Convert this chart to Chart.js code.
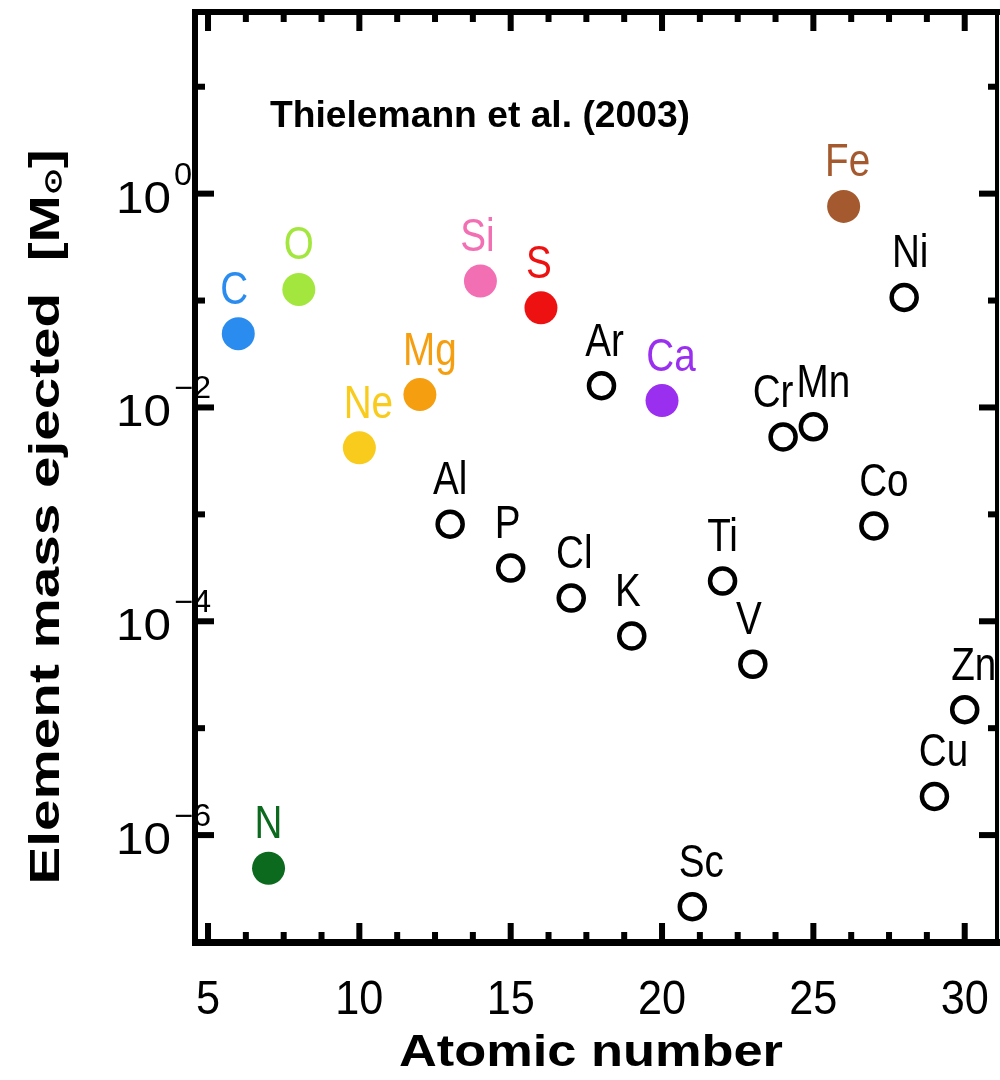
<!DOCTYPE html>
<html>
<head>
<meta charset="utf-8">
<script src="https://cdn.jsdelivr.net/npm/chart.js@4/dist/chart.umd.min.js"></script>
<style>
  html, body { margin: 0; padding: 0; background: #ffffff; }
  canvas { display: block; }
</style>
</head>
<body>
<canvas id="yields" width="1000" height="1080"></canvas>
<script>
// Element yields of a Type Ia supernova model
const elements     = ['C', 'N', 'O', 'Ne', 'Mg', 'Al', 'Si', 'P', 'S', 'Cl', 'Ar', 'K', 'Ca', 'Sc', 'Ti', 'V', 'Cr', 'Mn', 'Fe', 'Co', 'Ni', 'Cu', 'Zn'];
const atomicNumber = [6, 7, 8, 10, 12, 13, 14, 15, 16, 17, 18, 19, 20, 21, 22, 23, 24, 25, 26, 27, 28, 29, 30];
const massEjected  = [4.9e-2, 4.9e-7, 0.127, 4.2e-3, 1.32e-2, 8.1e-4, 0.152, 3.15e-4, 8.55e-2, 1.65e-4,
                      1.60e-2, 7.3e-5, 1.16e-2, 2.14e-7, 2.38e-4, 3.96e-5, 5.3e-3, 6.6e-3, 0.76, 7.8e-4,
                      0.107, 2.3e-6, 1.49e-5];

// Axis ticks
const xMajorTicks     = [5, 10, 15, 20, 25, 30];
const xMinorStep      = 1.25;
const yMajorExponents = [0, -2, -4, -6];
const yMinorExponents = [1, -1, -3, -5];

// Texts
const sourceNote = 'Thielemann et al. (2003)';
const xTitle     = 'Atomic number';
const yTitle     = 'Element mass ejected';

// Elements drawn as filled coloured dots; all others are open black rings
const fillColour = {
  C: '#2b8cef', N: '#0c6a1e', O: '#a3e63d', Ne: '#f8cb1c', Mg: '#f59f10',
  Si: '#f26fb3', S: '#ee1111', Ca: '#9a2ff0', Fe: '#a45a2e'
};
// Small sideways shifts (px) for some element names so they clear their neighbours
const labelShift = {
  C: -4, Ne: 9, Mg: 10, Si: -3, P: -3, S: -2, Cl: 3, Ar: 3, K: -4, Ca: 9,
  Sc: 9, V: -4, Cr: -10, Mn: 10, Fe: 4, Co: 10, Ni: 6, Cu: 9, Zn: 9
};

const points = atomicNumber.map((z, i) => ({ x: z, y: massEjected[i] }));
const isFilled = elements.map(e => e in fillColour);

const FONT = '"Liberation Sans", Arial, sans-serif';

// Draw text squeezed (or stretched) horizontally
function squeezedText(ctx, text, x, y, font, align, squeeze) {
  ctx.save();
  ctx.font = font;
  ctx.textAlign = align;
  ctx.textBaseline = 'alphabetic';
  ctx.translate(x, y);
  ctx.scale(squeeze, 1);
  ctx.fillText(text, 0, 0);
  ctx.restore();
}

// Fit text to a given width, centred on cx
function fittedText(ctx, text, cx, baseline, font, width) {
  ctx.save();
  ctx.font = font;
  const w = ctx.measureText(text).width;
  ctx.restore();
  squeezedText(ctx, text, cx, baseline, font, 'center', width / w);
}

const framePlugin = {
  id: 'frameAndLabels',
  afterDatasetsDraw(chart) {
    const { ctx, chartArea: a, scales } = chart;
    const xs = scales.x, ys = scales.y;
    ctx.save();
    ctx.fillStyle = '#000';

    // Box frame
    const lw = 6;
    ctx.fillRect(a.left - lw / 2, a.top - lw / 2, a.right - a.left + lw, lw);          // top
    ctx.fillRect(a.left - lw / 2, a.bottom - lw / 2, a.right - a.left + lw, lw + 1);   // bottom
    ctx.fillRect(a.left - lw / 2, a.top - lw / 2, lw, a.bottom - a.top + lw);          // left
    ctx.fillRect(a.right - lw / 2, a.top - lw / 2, lw - 2, a.bottom - a.top + lw);     // right

    const tw = 6, majorLen = 19, minorLen = 10;

    // X ticks (bottom and top, pointing inwards)
    const xTick = (v, len) => {
      const px = xs.getPixelForValue(v);
      ctx.fillRect(px - tw / 2, a.bottom - len, tw, len);
      ctx.fillRect(px - tw / 2, a.top, tw, len);
    };
    xMajorTicks.forEach(v => xTick(v, majorLen));
    for (let v = xMajorTicks[0] - xMinorStep * 4; v <= xs.max; v += xMinorStep) {
      if (v < xs.min || xMajorTicks.some(m => Math.abs(m - v) < 1e-6)) continue;
      xTick(v, minorLen);
    }

    // Y ticks (left and right, pointing inwards)
    const yTick = (e, len) => {
      const py = ys.getPixelForValue(Math.pow(10, e));
      ctx.fillRect(a.left, py - tw / 2, len, tw);
      ctx.fillRect(a.right - len, py - tw / 2, len, tw);
    };
    yMajorExponents.forEach(e => yTick(e, majorLen));
    yMinorExponents.forEach(e => yTick(e, minorLen));

    // X tick labels
    xMajorTicks.forEach(v => {
      squeezedText(ctx, String(v), xs.getPixelForValue(v), 1014, '48px ' + FONT, 'center', 0.9);
    });

    // Y tick labels: 10 with a raised exponent
    yMajorExponents.forEach(e => {
      const py = ys.getPixelForValue(Math.pow(10, e));
      squeezedText(ctx, '10', 171, py + 19, '45px ' + FONT, 'right', 1.1);
      const exp = e === 0 ? '0' : '\u2212' + String(-e);
      squeezedText(ctx, exp, 174, py - 9, '31px ' + FONT, 'left', 1.05);
    });

    // Axis titles
    fittedText(ctx, xTitle, 591, 1066, 'bold 44px ' + FONT, 384);

    ctx.save();
    ctx.translate(44, 517);
    ctx.rotate(-Math.PI / 2);
    const bold = 'bold 42px ' + FONT;
    ctx.font = bold;
    const main = yTitle + '  [M';
    const mainW = ctx.measureText(main).width;
    ctx.font = 'bold 24px ' + FONT;
    const sunW = ctx.measureText('\u2299').width;
    ctx.font = bold;
    const closeW = ctx.measureText(']').width;
    const total = mainW + sunW + closeW;
    const sq = 735 / total;
    ctx.scale(sq, 1);
    const x0 = -total / 2;
    ctx.textAlign = 'left';
    ctx.textBaseline = 'alphabetic';
    ctx.font = bold;
    ctx.fillText(main, x0, 15);
    ctx.font = 'bold 24px ' + FONT;
    ctx.fillText('\u2299', x0 + mainW, 17);
    ctx.font = bold;
    ctx.fillText(']', x0 + mainW + sunW, 15);
    ctx.restore();

    // Source note
    fittedText(ctx, sourceNote, 480, 127, 'bold 36px ' + FONT, 420);

    // Element names above each mark
    const meta = chart.getDatasetMeta(0);
    meta.data.forEach((pt, i) => {
      const el = elements[i];
      ctx.fillStyle = fillColour[el] || '#000';
      const dx = labelShift[el] || 0;
      squeezedText(ctx, el, pt.x + dx, pt.y - 30, '46px ' + FONT, 'center', 0.84);
    });

    ctx.restore();
  }
};

new Chart(document.getElementById('yields'), {
  type: 'scatter',
  data: {
    datasets: [{
      data: points,
      pointRadius: isFilled.map(f => f ? 16.5 : 12.5),
      pointBorderWidth: isFilled.map(f => f ? 0 : 4.5),
      pointBackgroundColor: elements.map(e => fillColour[e] || 'rgba(0,0,0,0)'),
      pointBorderColor: elements.map(e => fillColour[e] || '#000'),
      pointHoverRadius: isFilled.map(f => f ? 16.5 : 12.5)
    }]
  },
  options: {
    responsive: false,
    animation: false,
    devicePixelRatio: 1,
    layout: { autoPadding: false, padding: { left: 195, right: 2, top: 12, bottom: 138 } },
    plugins: { legend: { display: false }, tooltip: { enabled: false } },
    scales: {
      x: { type: 'linear', min: 4.57, max: 31.1, display: false },
      y: { type: 'logarithmic', min: 1e-7, max: 50, display: false }
    }
  },
  plugins: [framePlugin]
});
</script>
</body>
</html>
